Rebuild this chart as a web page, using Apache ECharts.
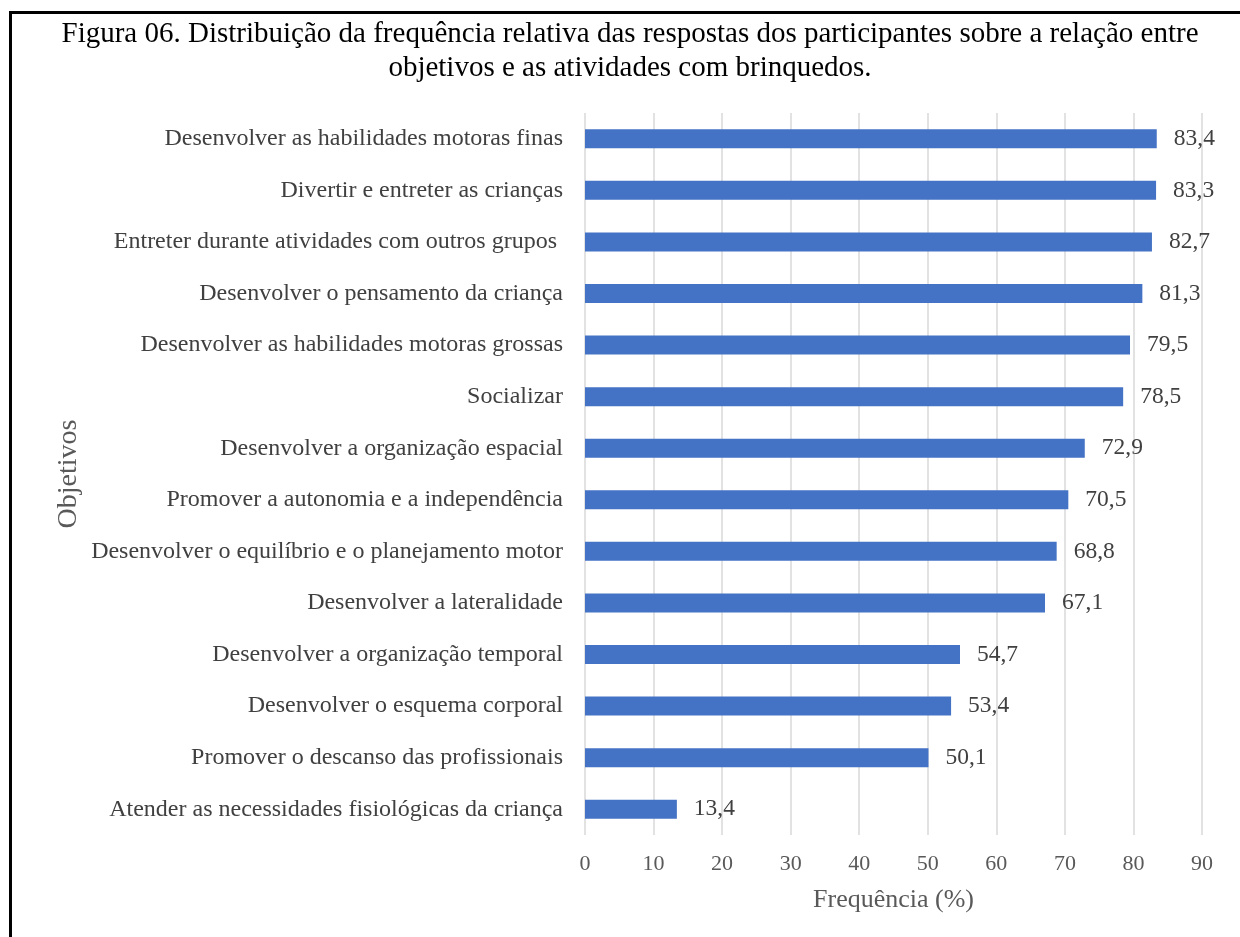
<!DOCTYPE html>
<html>
<head>
<meta charset="utf-8">
<script src="https://cdn.jsdelivr.net/npm/echarts@6/dist/echarts.min.js"></script>
<style>
  html, body { margin: 0; padding: 0; background: #fff; }
  #chart { width: 1240px; height: 937px; }
</style>
</head>
<body>
<div id="chart"></div>
<script>
// Objetivos das atividades com brinquedos (ordem de cima para baixo)
const categories = [
  'Desenvolver as habilidades motoras finas',
  'Divertir e entreter as crianças',
  'Entreter durante atividades com outros grupos ',
  'Desenvolver o pensamento da criança',
  'Desenvolver as habilidades motoras grossas',
  'Socializar',
  'Desenvolver a organização espacial',
  'Promover a autonomia e a independência',
  'Desenvolver o equilíbrio e o planejamento motor',
  'Desenvolver a lateralidade',
  'Desenvolver a organização temporal',
  'Desenvolver o esquema corporal',
  'Promover o descanso das profissionais',
  'Atender as necessidades fisiológicas da criança'
];

// Frequência relativa (%)
const frequencias = [83.4, 83.3, 82.7, 81.3, 79.5, 78.5, 72.9, 70.5, 68.8, 67.1, 54.7, 53.4, 50.1, 13.4];

const titleLines = [
  'Figura 06. Distribuição da frequência relativa das respostas dos participantes sobre a relação entre',
  'objetivos e as atividades com brinquedos.'
];

const serif = '"Liberation Serif", "Times New Roman", serif';
const chart = echarts.init(document.getElementById('chart'), null, { renderer: 'canvas' });

chart.setOption({
  backgroundColor: '#ffffff',
  animation: false,
  textStyle: { fontFamily: serif },
  graphic: [
    {
      type: 'rect',
      shape: { x: 10.5, y: 12.5, width: 1260, height: 960 },
      style: { fill: 'none', stroke: '#000000', lineWidth: 3 },
      silent: true
    },
    {
      type: 'text',
      x: 630, y: 17,
      style: {
        text: titleLines.join('\n'),
        fontFamily: serif,
        fontSize: 29,
        lineHeight: 34,
        fill: '#000000',
        align: 'center',
        verticalAlign: 'top'
      }
    }
  ],
  grid: { left: 585, top: 113, width: 617, height: 722, containLabel: false },
  xAxis: {
    type: 'value',
    min: 0,
    max: 90,
    interval: 10,
    name: 'Frequência (%)',
    nameLocation: 'middle',
    nameGap: 52,
    nameTextStyle: { fontFamily: serif, fontSize: 26, color: '#595959' },
    axisLine: { show: false },
    axisTick: { show: false },
    axisLabel: { fontFamily: serif, fontSize: 22, color: '#595959', margin: 18 },
    splitLine: { show: true, lineStyle: { color: '#d9d9d9', width: 1.5 } }
  },
  yAxis: {
    type: 'category',
    inverse: true,
    data: categories,
    name: 'Objetivos',
    nameLocation: 'middle',
    nameGap: 502,
    nameTextStyle: { fontFamily: serif, fontSize: 28, color: '#595959' },
    axisLine: { show: false },
    axisTick: { show: false },
    axisLabel: { fontFamily: serif, fontSize: 24, color: '#404040', margin: 22 }
  },
  series: [{
    type: 'bar',
    data: frequencias,
    barWidth: 19,
    itemStyle: { color: '#4472c4' },
    label: {
      show: true,
      position: 'right',
      distance: 17,
      fontFamily: serif,
      fontSize: 23.5,
      color: '#404040',
      formatter: p => String(p.value).replace('.', ',')
    }
  }]
});
</script>
</body>
</html>
